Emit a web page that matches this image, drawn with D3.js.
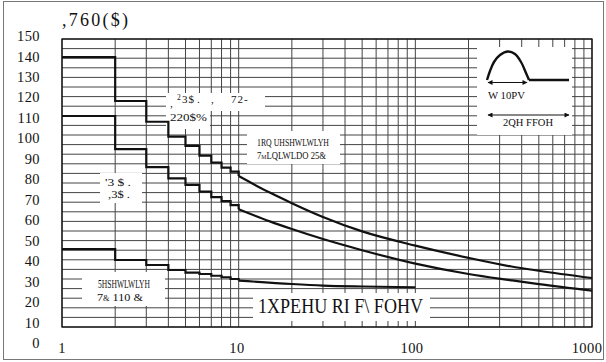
<!DOCTYPE html>
<html><head><meta charset="utf-8">
<script src="https://cdn.jsdelivr.net/npm/d3@7"></script>
<style>html,body{margin:0;padding:0;background:#fff}svg{display:block}</style>
</head><body>
<svg id="chart" width="606" height="362"></svg>
<script>
// Surge current (A) versus number of cycles.
// Each curve: one level per cycle count 1..9, then a smooth tail from 10 cycles on.
const stepCycles = [1, 2, 3, 4, 5, 6, 7, 8, 9];

const upperSteps = [140.6, 117.7, 106.9, 99.2, 94.3, 89.3, 85.6, 83.0, 80.9];
const upperTailCycles = [10, 15, 20, 30, 50, 100, 200, 350, 500, 1000];
const upperTail = [78.6, 70.0, 64.5, 57.3, 49.8, 42.4, 36.0, 31.5, 29.3, 25.5];

const lowerSteps = [109.9, 92.6, 83.3, 77.4, 74.0, 70.5, 67.6, 65.6, 63.5];
const lowerTailCycles = [10, 15, 20, 30, 50, 100, 200, 350, 500, 1000];
const lowerTail = [61.3, 55.0, 51.0, 45.8, 40.0, 33.0, 27.6, 24.3, 22.3, 18.9];

const repSteps = [40.6, 34.9, 32.3, 29.7, 28.3, 27.6, 26.7, 25.9, 25.0];
const repTailCycles = [10, 20, 30, 50, 100];
const repTail = [24.2, 22.4, 21.6, 21.1, 20.7];

const yTickLabels = [150, 140, 130, 120, 110, 100, 90, 80, 70, 60, 50, 40, 30, 20, 10, 0];
const xTickLabels = [1, 10, 100, 1000];
const xGridValues = [1,2,3,4,5,6,7,8,9,10,20,30,40,50,60,70,80,90,100,200,300,400,500,600,700,800,900,1000];
const yGridValues = d3.range(0, 151, 5);

const svg = d3.select("#chart");
const serif = "'Liberation Serif', 'Times New Roman', serif";

const x = d3.scaleLog().domain([1, 1000]).range([62, 592]);
const y = d3.scaleLinear().domain([0, 150]).range([327, 39]);
// tick text sits on its own, slightly wider, ladder
const yText = d3.scaleLinear().domain([0, 150]).range([343, 36]);
const xText = d3.scaleLog().domain([1, 1000]).range([62, 587]);

// outer border
svg.append("rect").attr("x", 3.5).attr("y", 1.5).attr("width", 600).attr("height", 358)
  .attr("fill", "none").attr("stroke", "#777").attr("stroke-width", 1);

// grid
const grid = svg.append("g").attr("stroke", "#444").attr("stroke-width", 1);
grid.selectAll("line.h").data(yGridValues).join("line").attr("class", "h")
  .attr("x1", x(1)).attr("x2", x(1000)).attr("y1", d => y(d)).attr("y2", d => y(d));
grid.selectAll("line.v").data(xGridValues).join("line").attr("class", "v")
  .attr("x1", d => x(d)).attr("x2", d => x(d)).attr("y1", y(150)).attr("y2", y(0));

// white label panels
const panels = [
  [166, 93, 99, 18], [166, 110, 44, 19],   // package note
  [247, 131, 93, 33],                      // non repetitive
  [100, 173, 42, 30],                      // DPAK / IPAK
  [82, 272, 83, 34],                       // repetitive
  [253, 293, 177, 28],                     // axis title
  [477, 47, 95, 88]                        // pulse sketch
];
svg.append("g").selectAll("rect").data(panels).join("rect")
  .attr("x", d => d[0]).attr("y", d => d[1]).attr("width", d => d[2]).attr("height", d => d[3])
  .attr("fill", "#fff");

// plot frame
svg.append("rect").attr("x", x(1)).attr("y", y(150)).attr("width", x(1000) - x(1)).attr("height", y(0) - y(150))
  .attr("fill", "none").attr("stroke", "#111").attr("stroke-width", 1.3);

// curves
const stepLine = d3.line().x(d => x(d[0])).y(d => y(d[1]));
const tailLine = d3.line().x(d => x(d[0])).y(d => y(d[1])).curve(d3.curveMonotoneX);
function drawCurve(steps, tailX, tailY) {
  const pts = [];
  steps.forEach((v, i) => { pts.push([stepCycles[i], v]); pts.push([stepCycles[i] + 1, v]); });
  pts.push([tailX[0], tailY[0]]);
  const g = svg.append("g").attr("fill", "none").attr("stroke", "#111").attr("stroke-width", 2.2);
  g.append("path").attr("d", stepLine(pts)).attr("stroke-linejoin", "miter");
  g.append("path").attr("d", tailLine(tailX.map((c, i) => [c, tailY[i]])));
}
drawCurve(upperSteps, upperTailCycles, upperTail);
drawCurve(lowerSteps, lowerTailCycles, lowerTail);
drawCurve(repSteps, repTailCycles, repTail);

// axis text
svg.append("g").selectAll("text").data(yTickLabels).join("text")
  .attr("x", 40).attr("y", d => yText(d)).attr("dy", "0.35em")
  .attr("text-anchor", "end").attr("font-family", serif).attr("font-size", 14.5)
  .attr("letter-spacing", 0.4).attr("fill", "#111").text(d => d);
svg.append("g").selectAll("text").data(xTickLabels).join("text")
  .attr("x", d => xText(d)).attr("y", 348).attr("dy", "0.35em")
  .attr("text-anchor", "middle").attr("font-family", serif).attr("font-size", 14.5)
  .attr("letter-spacing", 0.4).attr("fill", "#111").text(d => d);

svg.append("text").attr("x", 62).attr("y", 26).attr("font-family", serif).attr("font-size", 18)
  .attr("textLength", 66).attr("lengthAdjust", "spacing").attr("fill", "#111").text(",760($)");

function label(xp, yp, size, len, parts) {
  const t = svg.append("text").attr("x", xp).attr("y", yp).attr("dy", "0.35em")
    .attr("font-family", serif).attr("font-size", size).attr("fill", "#111");
  if (len) t.attr("textLength", len).attr("lengthAdjust", "spacingAndGlyphs");
  if (typeof parts === "string") { t.text(parts); return t; }
  parts.forEach(p => {
    const s = t.append("tspan").text(p.t);
    if (p.x !== undefined) s.attr("x", p.x);
    if (p.y !== undefined) s.attr("y", p.y);
    if (p.size) s.attr("font-size", p.size);
  });
  return t;
}

// package note
label(170, 103, 11, null, [
  {t: ",", x: 170, y: 103}, {t: "2", x: 177, y: 100, size: 7.5}, {t: "3$", x: 182, y: 103},
  {t: ".", x: 197, y: 103}, {t: ",", x: 211, y: 103}, {t: "72-", x: 231, y: 103}
]).attr("letter-spacing", 1);
label(170, 117, 11, 37, "220$%");

// non repetitive
label(257, 142.3, 10.5, 72, "1RQ UHSHWLWLYH");
label(257, 155.5, 10.5, 69, [{t: "7"}, {t: "M", size: 7}, {t: "LQLWLDO 25&"}]);

// DPAK / IPAK
label(105, 182.7, 10.5, 26, "'3 $ .");
label(108, 194.3, 10.5, 22, ",3$ .");

// repetitive
label(98, 283.3, 12, 52, "5HSHWLWLYH");
label(97, 296.7, 11, 46, [{t: "7"}, {t: "&", size: 7.5}, {t: "  110 &"}]);

// axis title
label(258, 306, 21, 165, "1XPEHU RI F\\ FOHV");

// pulse sketch
const defs = svg.append("defs");
defs.append("marker").attr("id", "ah").attr("viewBox", "0 0 10 10").attr("refX", 9).attr("refY", 5)
  .attr("markerWidth", 6).attr("markerHeight", 5).attr("orient", "auto-start-reverse")
  .append("path").attr("d", "M0,0 L10,5 L0,10 Z").attr("fill", "#111");

const pulseShape = [[0, 29], [3, 20], [7, 11], [13, 4], [21, 0.5], [28, 3], [34, 11], [39, 22], [42, 29]];
const icon = svg.append("g").attr("transform", "translate(487,51)");
icon.append("path").attr("d", d3.line().curve(d3.curveCatmullRom)(pulseShape))
  .attr("fill", "none").attr("stroke", "#111").attr("stroke-width", 2.4);
icon.append("line").attr("x1", 42).attr("x2", 82).attr("y1", 29).attr("y2", 29)
  .attr("stroke", "#111").attr("stroke-width", 2.4);
icon.append("line").attr("x1", 1).attr("x2", 40).attr("y1", 31.5).attr("y2", 31.5)
  .attr("stroke", "#111").attr("stroke-width", 1)
  .attr("marker-start", "url(#ah)").attr("marker-end", "url(#ah)");
icon.append("line").attr("x1", 1).attr("x2", 82).attr("y1", 64).attr("y2", 64)
  .attr("stroke", "#111").attr("stroke-width", 1)
  .attr("marker-start", "url(#ah)").attr("marker-end", "url(#ah)");
label(488, 95, 11, 37, "W 10PV");
label(503, 122, 11, 50, "2QH FFOH");
</script>
</body></html>
